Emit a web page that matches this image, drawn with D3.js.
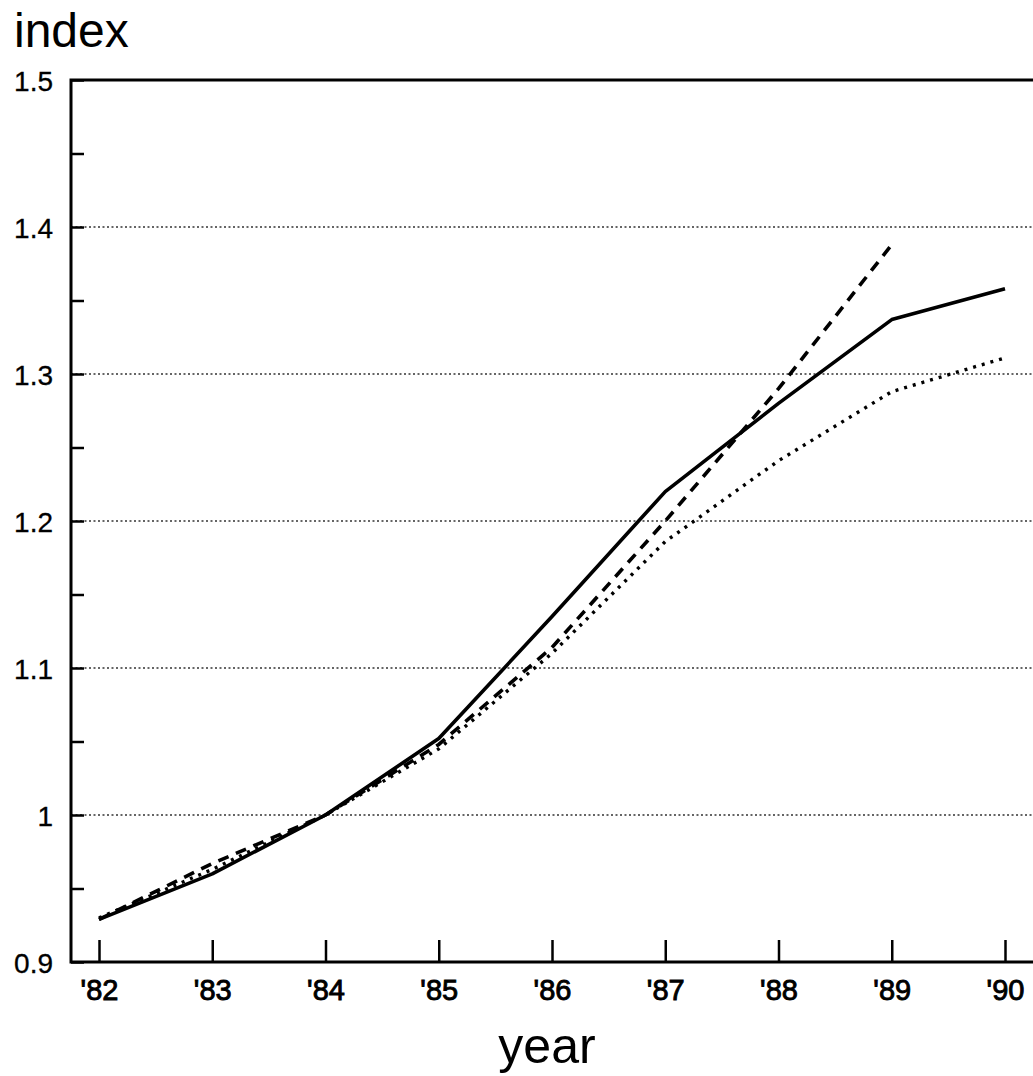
<!DOCTYPE html>
<html>
<head>
<meta charset="utf-8">
<script src="https://cdn.jsdelivr.net/npm/d3@7"></script>
<style>
  body { margin: 0; background: #fff; }
  text { font-family: "Liberation Sans", Arial, Helvetica, sans-serif; fill: #000; }
</style>
</head>
<body>
<script>
// data
let years = [82, 83, 84, 85, 86, 87, 88, 89, 90];
let yearLabels = ["'82", "'83", "'84", "'85", "'86", "'87", "'88", "'89", "'90"];
let solidSeries = [0.929, 0.960, 1.0, 1.052, 1.135, 1.22, 1.28, 1.337, 1.358];
let dashedSeries = [0.929, 0.967, 1.0, 1.048, 1.114, 1.2, 1.29, 1.388];
let dottedSeries = [0.930, 0.963, 1.0, 1.045, 1.110, 1.186, 1.241, 1.288, 1.311];
let yTicks = [0.9, 1.0, 1.1, 1.2, 1.3, 1.4, 1.5];
let yTickLabels = ["0.9", "1", "1.1", "1.2", "1.3", "1.4", "1.5"];
let yMinorTicks = [0.95, 1.05, 1.15, 1.25, 1.35, 1.45];

let W = 1033, H = 1076,
    plotLeft = 71, plotTop = 80, plotBottom = 962, plotRight = 1033;

let svg = d3.select("body").append("svg")
    .attr("width", W).attr("height", H);

let x = d3.scaleLinear().domain([82, 90]).range([99, 1005]);
let y = d3.scaleLinear().domain([0.9, 1.5]).range([plotBottom, plotTop]);

// gridlines
svg.append("g").selectAll("line")
    .data(yTicks.filter(d => d > 0.95 && d < 1.45))
    .enter().append("line")
    .attr("x1", plotLeft).attr("x2", plotRight)
    .attr("y1", d => y(d)).attr("y2", d => y(d))
    .attr("stroke", "#333").attr("stroke-width", 1.5)
    .attr("stroke-dasharray", "2,2.5");

// y axis
let yAxis = d3.axisLeft(y)
    .tickValues(yTicks.concat(yMinorTicks))
    .tickSizeInner(-13).tickSizeOuter(0).tickPadding(18)
    .tickFormat(d => {
        let i = yTicks.findIndex(t => Math.abs(t - d) < 1e-6);
        return i >= 0 ? yTickLabels[i] : "";
    });
let gy = svg.append("g").attr("transform", "translate(" + plotLeft + ",0)").call(yAxis);
gy.select(".domain").remove();
gy.selectAll("line").attr("stroke", "#000").attr("stroke-width", 2.5);
gy.selectAll("text").style("font-size", "28px").attr("dy", "0.36em")
    .attr("stroke", "#000").attr("stroke-width", 0.3);

// x axis
let xAxis = d3.axisBottom(x)
    .tickValues(years)
    .tickSizeInner(-22).tickSizeOuter(0).tickPadding(17)
    .tickFormat((d, i) => yearLabels[i]);
let gx = svg.append("g").attr("transform", "translate(0," + plotBottom + ")").call(xAxis);
gx.select(".domain").remove();
gx.selectAll("line").attr("stroke", "#000").attr("stroke-width", 2.5);
gx.selectAll("text").style("font-size", "29px")
    .attr("stroke", "#000").attr("stroke-width", 0.9);

// frame: left, bottom, top
svg.append("path")
    .attr("d", "M" + plotRight + "," + plotTop + "H" + plotLeft + "V" + plotBottom + "H" + plotRight)
    .attr("fill", "none").attr("stroke", "#000").attr("stroke-width", 3);

// series
let line = d3.line()
    .x((d, i) => x(years[i]))
    .y(d => y(d));

svg.append("path").datum(solidSeries)
    .attr("d", line).attr("fill", "none")
    .attr("stroke", "#000").attr("stroke-width", 3.6)
    .attr("stroke-linejoin", "round");

svg.append("path").datum(dashedSeries)
    .attr("d", line).attr("fill", "none")
    .attr("stroke", "#000").attr("stroke-width", 3.6)
    .attr("stroke-dasharray", "11,8");

svg.append("path").datum(dottedSeries)
    .attr("d", line).attr("fill", "none")
    .attr("stroke", "#000").attr("stroke-width", 3.4)
    .attr("stroke-dasharray", "3,6");

// axis titles
svg.append("text")
    .attr("x", 14).attr("y", 47)
    .style("font-size", "48px")
    .text("index");

svg.append("text")
    .attr("x", 547).attr("y", 1063)
    .attr("text-anchor", "middle")
    .style("font-size", "50px")
    .text("year");
</script>
</body>
</html>
